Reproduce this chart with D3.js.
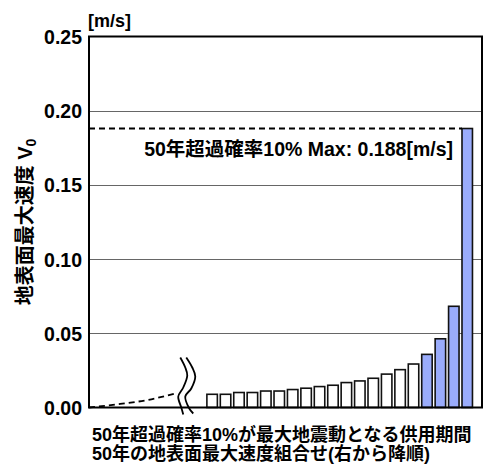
<!DOCTYPE html>
<html><head><meta charset="utf-8">
<script src="https://cdn.jsdelivr.net/npm/d3@7"></script>
<style>
html,body{margin:0;padding:0;background:#fff;}
svg{display:block;}
text{font-family:"Liberation Sans",Arial,"Noto Sans CJK JP",sans-serif;font-weight:bold;fill:#000;}
</style></head>
<body>
<script>
// ---- data ----
const barValues = [0.0089,0.0089,0.0101,0.0101,0.0111,0.0111,0.0121,0.0130,0.0141,0.0150,
                   0.0168,0.0179,0.0197,0.0225,0.0255,0.0293,0.0358,0.0463,0.0682,0.188];
const barHighlighted = [0,0,0,0,0,0,0,0,0,0,0,0,0,0,0,0,1,1,1,1];
const yTicks = [0.00,0.05,0.10,0.15,0.20,0.25];
const trendSlots = [-9.17,-6.85,-4.84,-2.6];
const trendValues = [0,0.0024,0.005,0.0098];
const breakSlot = -2.0;
const maxValue = 0.188;
const maxLabel = "50年超過確率10% Max: 0.188[m/s]";
const yUnit = "[m/s]";
const yTitle = "地表面最大速度 V";
const yTitleSub = "0";
const xLabels = ["50年超過確率10%が最大地震動となる供用期間","50年の地表面最大速度組合せ(右から降順)"];

// ---- layout ----
const W=484,H=464;
const L=89,R=482,T=36.5,B=407.5;
const svg=d3.select("body").append("svg").attr("width",W).attr("height",H);
const x=d3.scaleLinear().domain([-9.17,20.1]).range([L,R]);
const y=d3.scaleLinear().domain([0,0.25]).range([B,T]);
const slotW = x(1)-x(0);
const bw = slotW*0.78;

// gridlines
svg.append("g").selectAll("line").data(yTicks.filter(d=>d>0&&d<0.25)).join("line")
  .attr("x1",L).attr("x2",R).attr("y1",d=>Math.round(y(d))+0.5).attr("y2",d=>Math.round(y(d))+0.5)
  .attr("stroke","#666").attr("stroke-width",1.2);

// y axis labels
const ax=svg.append("g").attr("transform",`translate(${L-5},0)`)
  .call(d3.axisLeft(y).tickValues(yTicks).tickFormat(d3.format(".2f")).tickSize(0).tickPadding(2));
ax.select(".domain").remove();
ax.selectAll("text").attr("font-size",19.5).attr("font-family","Liberation Sans, Arial, sans-serif").attr("font-weight","bold").attr("dy","0.36em");

// bars
svg.append("g").selectAll("rect").data(barValues).join("rect")
  .attr("x",(d,i)=>x(i)-bw/2).attr("width",bw)
  .attr("y",d=>y(d)).attr("height",d=>B-y(d))
  .attr("fill",(d,i)=>barHighlighted[i]?"#9aacfb":"#fff")
  .attr("stroke","#111").attr("stroke-width",1.6);

// max dashed line
svg.append("line").attr("x1",L).attr("x2",x(barValues.length-1)-bw/2)
  .attr("y1",y(maxValue)).attr("y2",y(maxValue))
  .attr("stroke","#000").attr("stroke-width",2).attr("stroke-dasharray","6,4");
svg.append("text").attr("x",453).attr("y",y(maxValue)+27).attr("text-anchor","end")
  .attr("font-size",19.5).text(maxLabel);

// trend dashed curve
svg.append("path").datum(trendSlots.map((s,i)=>[x(s),y(trendValues[i])]))
  .attr("d",d3.line().curve(d3.curveMonotoneX)).attr("fill","none")
  .attr("stroke","#000").attr("stroke-width",1.8).attr("stroke-dasharray","6,4");

// frame
svg.append("rect").attr("x",L).attr("y",T).attr("width",R-L).attr("height",B-T)
  .attr("fill","none").attr("stroke","#000").attr("stroke-width",2);

// break marks
const bx=x(breakSlot);
const wave=d3.line().curve(d3.curveCatmullRom);
[[[-5,-50],[0,-40],[2,-32],[-2,-20],[-7,-11],[-4,0],[-2,7]],
 [[1,-50],[7,-40],[10,-31],[6,-19],[0,-11],[4,1],[8,6]]].forEach(pts=>{
  svg.append("path").attr("d",wave(pts.map(([dx,dy])=>[bx+dx,B+dy]))).attr("fill","none")
    .attr("stroke","#000").attr("stroke-width",1.8);
});

// unit
svg.append("text").attr("x",88).attr("y",27).attr("font-size",18).text(yUnit);

// y title
const yt=svg.append("text").attr("transform",`translate(32,222) rotate(-90)`).attr("text-anchor","middle").attr("font-size",20);
yt.append("tspan").text(yTitle);
yt.append("tspan").attr("font-size",14).attr("dy",4).text(yTitleSub);

// x labels
xLabels.forEach((t,i)=>{
  svg.append("text").attr("x",92).attr("y",441+i*19).attr("font-size",18).text(t);
});
</script>
</body></html>
